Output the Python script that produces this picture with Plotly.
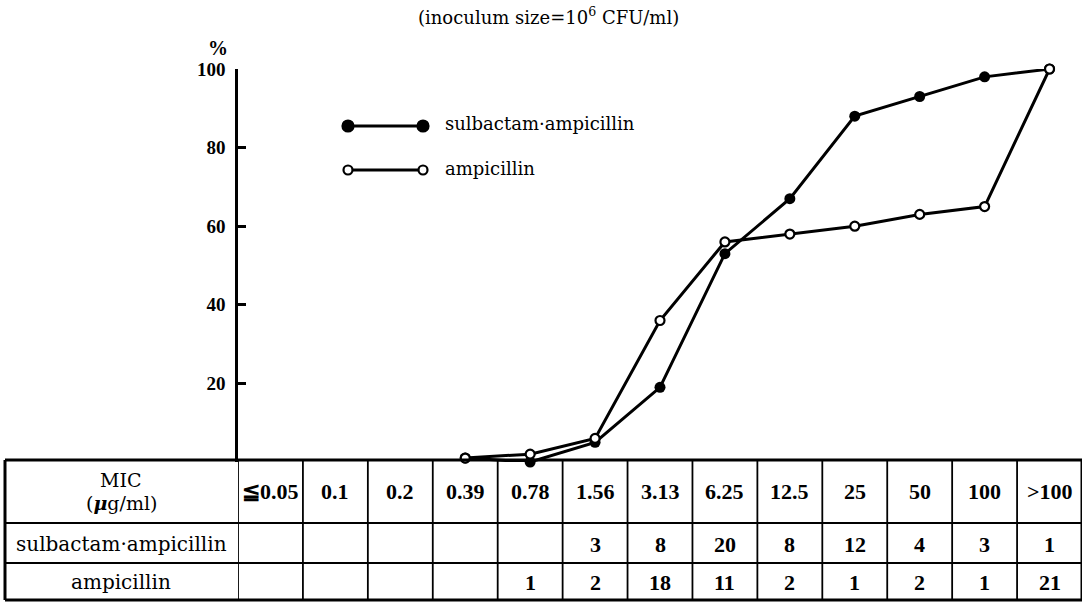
import plotly.graph_objects as go

W, H = 1090, 603

# ---------------- data ----------------
categories = ["≦0.05", "0.1", "0.2", "0.39", "0.78", "1.56", "3.13",
              "6.25", "12.5", "25", "50", "100", ">100"]
sa_counts = [None, None, None, None, None, 3, 8, 20, 8, 12, 4, 3, 1]
amp_counts = [None, None, None, None, 1, 2, 18, 11, 2, 1, 2, 1, 21]
sa_pct = [None, None, None, 1, 0, 5, 19, 53, 67, 88, 93, 98, 100]
amp_pct = [None, None, None, 1, 2, 6, 36, 56, 58, 60, 63, 65, 100]
y_ticks = [20, 40, 60, 80, 100]
row_labels = ["sulbactam·ampicillin", "ampicillin"]
title_text = "(inoculum size=10<sup>6</sup> CFU/ml)"

SERIF = "DejaVu Serif"
NUM = "Liberation Serif"


def px(x):
    return x / W


def py(y):
    return 1 - y / H


fig = go.Figure()

fig.add_trace(go.Scatter(
    x=categories, y=sa_pct, mode="lines+markers", name=row_labels[0],
    line=dict(color="black", width=3),
    marker=dict(symbol="circle", size=11, color="black"),
    cliponaxis=False, connectgaps=False, showlegend=False))
fig.add_trace(go.Scatter(
    x=categories, y=amp_pct, mode="lines+markers", name=row_labels[1],
    line=dict(color="black", width=3),
    marker=dict(symbol="circle", size=9, color="white",
                line=dict(color="black", width=2.2)),
    cliponaxis=False, connectgaps=False, showlegend=False))

shapes = []
annotations = []


def note(text, x, y, xref="paper", font=None, xanchor="center"):
    annotations.append(dict(text=text, x=x, y=y, xref=xref, yref="paper",
                            xanchor=xanchor, yanchor="middle", showarrow=False,
                            font=font))


# ---------------- table ----------------
table_left = 5
h_lines = [(460, 3), (523, 1.8), (563, 1.8), (600, 3)]
for yy, w in h_lines:
    shapes.append(dict(type="line", xref="paper", yref="paper",
                       x0=px(table_left), x1=px(1082), y0=py(yy), y1=py(yy),
                       line=dict(color="black", width=w)))
shapes.append(dict(type="line", xref="paper", yref="paper",
                   x0=px(table_left), x1=px(table_left), y0=py(460), y1=py(600),
                   line=dict(color="black", width=3)))
for i in range(len(categories) + 1):
    xb = i - 0.5
    w = 3 if i == len(categories) else 1.8
    shapes.append(dict(type="line", xref="x", yref="paper",
                       x0=xb, x1=xb, y0=py(460), y1=py(600),
                       line=dict(color="black", width=w)))

label_font = dict(family=SERIF, size=20, color="black")
num_font = dict(family=NUM, size=22, color="black", weight="bold")

note("MIC", px(121), py(480), font=dict(family=SERIF, size=19, color="black"))
note("(<i><b>μ</b></i>g/ml)", px(121), py(503), font=dict(family=SERIF, size=19, color="black"))
for i, c in enumerate(categories):
    note(c, i, py(492), xref="x", font=num_font)

row_y = [544, 582]
for ry, lab, counts in zip(row_y, row_labels, [sa_counts, amp_counts]):
    note(lab, px(121), py(ry), font=label_font)
    for i, v in enumerate(counts):
        if v is None:
            continue
        note(str(v), i, py(ry), xref="x", font=num_font)

# ---------------- legend (drawn) ----------------
leg = [(126, "filled", row_labels[0]), (170, "open", row_labels[1])]
for yy, kind, lab in leg:
    shapes.append(dict(type="line", xref="paper", yref="paper",
                       x0=px(348), x1=px(423), y0=py(yy), y1=py(yy),
                       line=dict(color="black", width=3)))
    for xx in (348, 423):
        r = 5.5 if kind == "filled" else 4.5
        shapes.append(dict(type="circle", xref="paper", yref="paper",
                           xsizemode="pixel", ysizemode="pixel",
                           xanchor=px(xx), yanchor=py(yy),
                           x0=-r, x1=r, y0=-r, y1=r,
                           fillcolor="black" if kind == "filled" else "white",
                           line=dict(color="black", width=2.2)))
    note(lab, px(443), py(yy - 2), xanchor="left",
         font=dict(family=SERIF, size=18, color="black"))

# ---------------- titles ----------------
note(title_text, px(548), py(16), font=dict(family=SERIF, size=18, color="black"))
note("%", px(218), py(48), font=dict(family=NUM, size=20, color="black", weight="bold"))

fig.update_layout(
    width=W, height=H,
    margin=dict(l=0, r=0, t=0, b=0, autoexpand=False),
    paper_bgcolor="white", plot_bgcolor="rgba(0,0,0,0)",
    showlegend=False,
    xaxis=dict(type="category", categoryorder="array", categoryarray=categories,
               range=[-0.5, len(categories) - 0.5],
               domain=[px(238), px(1082)],
               showticklabels=False, showline=False, showgrid=False,
               zeroline=False, ticks=""),
    yaxis=dict(range=[0, 100], domain=[py(462), py(69)],
               tickvals=y_ticks, ticktext=[str(t) for t in y_ticks],
               ticks="inside", ticklen=8, tickwidth=2.5, tickcolor="black",
               showline=True, linewidth=2.5, linecolor="black",
               showgrid=False, zeroline=False, ticklabelstandoff=6,
               tickfont=dict(family=NUM, size=19, color="black", weight="bold")),
    shapes=shapes,
    annotations=annotations,
)

fig.write_html("out.html",
               config={"displayModeBar": False},
               post_script="document.body.style.margin='0';document.body.style.overflow='hidden';")
